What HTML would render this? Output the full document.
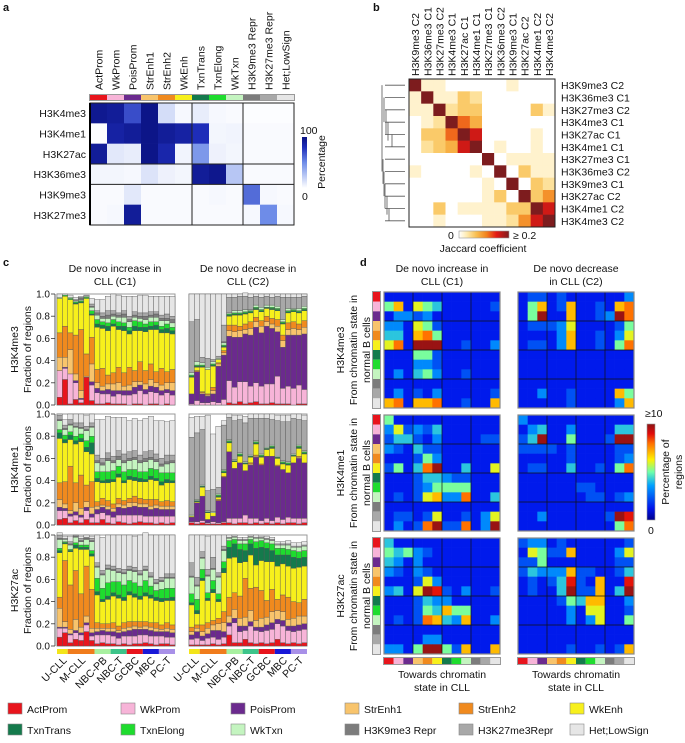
<!DOCTYPE html>
<html><head><meta charset="utf-8"><style>
html,body{margin:0;padding:0;background:#fff}
svg{display:block;font-family:"Liberation Sans",Arial,sans-serif}
</style></head><body>
<svg id="fig" width="685" height="743" viewBox="0 0 685 743" xmlns="http://www.w3.org/2000/svg"></svg>
<script>
// ---------- DATA ----------
const stateNames = ["ActProm","WkProm","PoisProm","StrEnh1","StrEnh2","WkEnh","TxnTrans","TxnElong","WkTxn","H3K9me3 Repr","H3K27me3 Repr","Het;LowSign"];
const legendNames = ["ActProm","WkProm","PoisProm","StrEnh1","StrEnh2","WkEnh","TxnTrans","TxnElong","WkTxn","H3K9me3 Repr","H3K27me3Repr","Het;LowSign"];
const stateColors = ["#e8141c","#f7b4d8","#6b2a8e","#f8c46c","#f08a1e","#f7f01c","#147a4c","#1edc2e","#c4f4c0","#7c7c7c","#a8a8a8","#e6e6e6"];
const marks = ["H3K4me3","H3K4me1","H3K27ac","H3K36me3","H3K9me3","H3K27me3"];
const aValues = [
 [95,92,70,98,15,3,8,3,2,1,1,1],
 [1,88,92,98,92,88,80,4,5,2,2,2],
 [92,10,8,98,85,5,45,6,4,2,2,2],
 [4,4,3,12,6,4,92,96,25,2,2,2],
 [2,2,10,2,2,2,2,3,2,60,3,2],
 [2,3,92,2,2,2,2,2,2,3,50,3]];
const bLabels = ["H3K9me3 C2","H3K36me3 C1","H3K27me3 C2","H3K4me3 C1","H3K27ac C1","H3K4me1 C1","H3K27me3 C1","H3K36me3 C2","H3K9me3 C1","H3K27ac C2","H3K4me1 C2","H3K4me3 C2"];
const bValues = [
 [10,1,1,0,0,0,0,0,1,0,0,0],
 [1,10,1,1,3,2,0,0,0,0,0,0],
 [1,1,10,2,3,3,0,0,0,0,3,1],
 [0,1,2,10,6,4,0,0,0,0,0,0],
 [0,3,3,6,10,8,0,0,0,0,1,0],
 [0,2,3,4,8,10,0,1,0,0,1,0],
 [0,0,0,0,0,0,10,0,1,1,1,1],
 [1,0,0,0,0,1,0,10,0,3,1,1],
 [0,0,0,0,0,0,1,0,10,0,3,2],
 [0,0,0,0,0,0,1,3,0,10,3,5],
 [0,0,3,0,1,1,1,1,3,3,10,8],
 [0,0,1,0,0,0,1,1,2,5,8,10]];
const groups = ["U-CLL","M-CLL","NBC-PB","NBC-T","GCBC","MBC","PC-T"];
const groupCounts = [2,5,3,3,3,3,3];
const groupColors = ["#f3e51a","#f07c1c","#a8f0a0","#3cc48a","#e8141c","#1818d8","#a890e8"];
const yTicks = [0,0.2,0.4,0.6,0.8,1.0];
const c_K4me3_C1 = ["7 24 0 12 22 31 0 0 1 0 0 3","23 10 1 9 28 27 0 1 0 0 0 1","1 27 0 22 15 30 0 1 1 0 0 2","5 15 2 6 35 28 1 1 1 0 1 2","2 3 1 7 55 24 1 1 1 1 1 1","25 0 0 1 20 50 0 1 1 0 1 0","4 14 3 16 24 20 1 3 3 1 2 5","1 10 4 5 12 38 3 4 4 2 2 10","1 9 3 4 16 36 3 3 3 2 3 12","2 8 4 5 8 40 4 3 4 3 4 13","1 7 5 6 10 42 2 4 3 2 3 15","1 9 3 7 14 34 3 4 4 2 2 16","1 8 4 4 12 38 4 3 5 3 3 13","0 9 4 5 16 30 3 3 5 2 3 18","1 9 6 5 10 36 4 5 3 2 3 14","1 12 5 3 18 28 3 5 3 2 3 16","0 10 4 5 12 35 4 3 4 3 3 16","1 11 5 6 14 31 3 4 4 2 3 14","1 10 5 4 10 38 4 3 4 3 2 14","0 9 4 5 15 32 3 3 5 2 3 17","1 10 3 6 10 35 4 4 3 2 4 16","0 9 4 7 12 32 3 3 4 3 3 18"];
const c_K4me3_C2 = ["0 1 9 0 0 15 1 1 2 0 46 25","0 4 26 0 1 3 1 1 3 0 38 23","0 2 8 1 1 22 1 1 2 0 5 57","0 2 6 1 1 22 0 0 2 0 8 58","0 3 7 3 3 19 1 1 2 0 2 59","0 2 33 2 1 3 0 0 1 0 2 56","0 5 40 2 2 3 1 1 2 1 15 28","2 20 40 5 5 8 1 1 1 0 14 3","1 15 45 5 6 9 1 1 2 0 12 3","3 18 40 6 4 10 1 1 2 0 13 2","1 20 43 4 5 9 1 1 2 0 12 3","2 15 46 6 6 8 1 1 1 0 11 3","3 17 50 5 4 7 1 1 2 0 8 2","1 16 48 6 5 8 1 1 2 0 9 3","1 18 52 4 5 7 1 0 2 0 8 2","2 17 50 4 5 8 1 1 2 0 7 3","1 25 40 5 6 8 1 1 2 0 9 2","1 14 37 6 5 10 1 1 2 0 20 3","1 16 46 5 6 9 1 1 2 0 10 3","0 15 48 6 6 9 1 1 1 0 10 3","1 17 45 5 5 10 1 1 2 0 10 3","1 13 50 6 6 9 1 1 2 0 9 2"];
const c_K4me1_C1 = ["5 8 3 7 15 40 5 3 8 1 4 1","6 7 2 4 20 35 3 4 5 1 3 5","2 6 2 3 40 24 4 3 6 1 4 5","4 5 3 8 18 35 3 4 8 1 3 8","2 5 2 6 30 30 3 4 5 1 4 8","5 8 3 5 15 30 4 6 9 1 3 10","2 5 3 6 23 25 10 6 8 1 3 8","2 8 4 3 4 18 3 6 8 2 5 32","5 6 5 2 6 14 2 8 6 2 4 35","2 7 5 3 5 16 3 7 10 2 5 33","1 6 5 3 4 20 2 8 7 2 4 35","3 6 7 3 5 19 3 7 6 3 5 30","2 7 6 3 4 16 2 8 8 2 6 33","1 8 7 4 4 17 3 6 8 2 6 28","2 7 8 3 6 14 3 7 9 2 6 29","3 6 7 3 5 15 3 6 8 2 5 31","2 6 8 3 4 16 2 7 9 3 6 30","2 6 6 3 6 18 3 7 8 2 6 31","1 7 7 3 5 17 2 8 7 2 5 30","2 6 6 3 4 15 3 8 6 2 5 34","1 7 6 3 5 16 3 6 8 2 6 30","2 6 6 3 4 17 2 7 9 2 5 31"];
const c_K4me1_C2 = ["2 1 4 0 0 1 0 0 1 0 70 18","1 2 17 0 0 1 1 0 1 0 60 15","2 2 22 0 0 8 1 0 1 0 50 12","1 1 3 0 0 6 1 0 1 0 18 68","1 2 5 0 0 3 0 0 1 0 20 50","1 1 20 0 1 2 1 1 1 0 6 55","2 1 40 0 1 3 1 1 1 0 40 4","2 4 60 0 0 8 1 1 1 0 20 3","1 5 45 0 0 6 1 0 1 0 35 5","2 4 50 0 0 6 1 1 1 0 30 4","2 7 40 0 0 6 1 0 1 0 35 6","1 5 48 1 1 5 1 0 1 0 33 4","2 4 55 1 1 10 1 1 1 0 20 4","1 3 50 0 1 6 1 1 1 0 32 4","2 4 56 0 0 6 1 0 1 0 26 4","1 3 58 0 0 7 1 1 1 0 23 5","2 5 46 0 1 6 1 0 1 0 32 5","1 4 45 0 0 5 1 1 1 0 35 6","2 5 40 0 0 7 1 1 1 0 36 6","2 4 50 0 0 6 1 0 1 0 32 4","1 5 54 1 1 7 1 1 1 0 23 5","2 4 50 0 0 8 1 1 1 0 27 5"];
const c_K27ac_C1 = ["8 8 1 17 10 40 2 2 8 1 3 2","12 4 1 5 55 15 1 1 2 0 1 2","3 7 1 4 40 30 1 1 4 1 2 5","6 6 2 10 44 20 3 2 5 1 1 0","5 5 2 5 30 40 2 2 3 1 2 2","13 6 2 6 45 15 2 2 5 1 1 2","5 4 3 4 35 30 2 3 8 1 2 2","2 8 3 3 5 25 3 12 10 1 3 25","3 7 4 2 4 20 2 10 12 1 3 30","2 8 3 3 4 22 3 12 12 1 3 27","2 7 4 3 5 24 3 10 10 1 3 28","1 6 5 2 4 25 3 12 8 1 3 30","2 7 4 3 5 20 3 11 10 1 3 31","1 8 5 3 5 24 3 10 9 1 3 28","2 7 6 3 4 22 3 10 10 1 3 28","2 8 5 2 5 20 3 9 10 1 3 32","3 7 5 3 4 23 3 11 9 1 3 30","2 7 5 3 4 22 3 8 8 1 3 34","1 8 4 3 5 20 3 6 6 1 3 40","2 7 4 2 4 21 3 8 7 1 3 38","2 6 5 3 5 20 2 9 9 1 3 35","1 7 4 3 4 22 3 8 9 1 3 35"];
const c_K27ac_C2 = ["1 5 4 3 4 20 2 8 15 1 12 25","1 6 6 3 3 10 3 10 12 1 7 38","1 4 4 4 6 40 2 8 10 1 5 15","1 6 4 5 5 20 2 5 15 1 5 30","2 6 6 5 4 25 3 8 10 1 10 20","1 5 8 6 5 15 2 5 15 1 3 34","2 6 5 8 10 35 4 6 10 1 3 10","10 8 3 6 17 35 10 6 2 0 1 2","3 18 4 8 15 32 12 4 2 0 1 1","3 10 5 7 20 30 12 5 3 0 1 2","6 8 4 8 35 15 10 6 3 0 1 2","3 15 4 10 20 30 10 4 2 0 1 1","2 12 3 6 30 20 15 6 3 0 1 2","3 10 4 8 25 27 12 6 2 0 1 1","2 12 5 7 15 35 12 5 3 0 1 2","3 12 6 10 20 25 10 6 3 0 1 2","6 14 4 8 10 30 10 6 3 0 1 2","3 15 5 8 15 28 8 6 3 0 1 2","2 12 4 6 20 28 10 5 4 0 1 3","3 10 5 7 15 30 10 6 3 0 1 3","2 12 5 8 12 32 8 6 4 0 1 3","3 12 5 7 15 30 8 6 4 0 1 3"];
const d_K4me3_C1 = ["000000000000","460543000001","022120000000","220541000000","330674000000","570999001002","000441000000","000221000000","020342001000","000000000000","020102000001","670667001006"];
const d_K4me3_C2 = ["011010000002","046016001067","049006001297","011125000014","000026001025","011026001047","000000000000","000000000000","000000000000","000000000000","002001000064","000001000026"];
const d_K4me1_C1 = ["400000000000","251213000000","133102000011","210311000000","000142000000","140379003005","000133211000","000124444000","010156227003","000000000000","011015001025","020179117029"];
const d_K4me1_C2 = ["200000000000","023002000033","139004000199","111101000011","000001000012","011003001047","000000000000","000000110000","000000011012","000000000000","002000000198","000000000047"];
const d_K27ac_C1 = ["300000000000","434210000000","320200000000","210210000000","000152000000","230598102001","000132200000","000143644000","010176326002","000000000000","000022000000","220499416006"];
const d_K27ac_C2 = ["122010000001","054116000025","114000000011","132226110013","010138106008","010039116039","000014366002","000002055001","000002025004","000000000000","000000000000","000001001016"];

// ---------- HELPERS ----------
const NS="http://www.w3.org/2000/svg";
const svg=document.getElementById('fig');
function mk(tag,attrs,parent,text){const e=document.createElementNS(NS,tag);for(const k in attrs)e.setAttribute(k,attrs[k]);if(text!==undefined)e.textContent=text;(parent||svg).appendChild(e);return e;}
function txt(x,y,s,size,opts,parent){opts=opts||{};const a={x:x,y:y,'font-size':size,fill:opts.fill||'#111'};if(opts.anchor)a['text-anchor']=opts.anchor;if(opts.weight)a['font-weight']=opts.weight;if(opts.rot!==undefined)a.transform='rotate('+opts.rot+' '+x+' '+y+')';return mk('text',a,parent,s);}
function lerp(a,b,t){return Math.round(a+(b-a)*t);}
function ramp(stops,t){t=Math.max(0,Math.min(1,t));for(let i=1;i<stops.length;i++){if(t<=stops[i][0]){const s=stops[i-1],e=stops[i];const u=(t-s[0])/(e[0]-s[0]);return 'rgb('+lerp(s[1][0],e[1][0],u)+','+lerp(s[1][1],e[1][1],u)+','+lerp(s[1][2],e[1][2],u)+')';}}const l=stops[stops.length-1][1];return 'rgb('+l.join(',')+')';}
const blueStops=[[0,[255,255,255]],[0.5,[110,140,232]],[0.8,[30,45,185]],[1,[10,18,130]]];
const heatStops=[[0,[255,255,255]],[0.15,[255,236,180]],[0.35,[248,190,80]],[0.55,[242,130,30]],[0.75,[228,25,20]],[1,[125,28,30]]];
const jetStops=[[0,[0,0,140]],[0.12,[0,20,235]],[0.36,[0,160,255]],[0.5,[110,255,170]],[0.63,[255,240,0]],[0.8,[255,110,0]],[0.9,[225,10,10]],[1,[140,20,20]]];

// ---------- PANEL A ----------
let g=mk('g',{});


let t=txt(3,11,'a',11,{weight:'bold'},g);


const aX=90,aY=103,aW=204,aH=122;
const acw=aW/12,ach=aH/6;
stateNames.forEach((n,i)=>{
 const cx=aX+acw*(i+0.5)+4;
 const l=txt(cx,90,n,10.5,{rot:-90},g);
 
 
 const s=mk('rect',{x:aX+acw*i,y:95,width:acw,height:5,fill:stateColors[i]},g);
 
 
});
mk('rect',{x:aX-0.5,y:94.5,width:aW+1,height:6,fill:'none',stroke:'#999','stroke-width':1},g);
aValues.forEach((row,r)=>{
 const l=txt(86,aY+ach*(r+0.5)+4,marks[r],10.5,{anchor:'end'},g);
 
 
 row.forEach((v,c)=>{
  const cell=mk('rect',{x:aX+acw*c,y:aY+ach*r,width:acw+0.3,height:ach+0.3,fill:ramp(blueStops,v/100)},g);
  
  
 });
});
mk('rect',{x:aX,y:aY,width:aW,height:aH,fill:'none',stroke:'#222','stroke-width':1},g);
[6,9].forEach(c=>mk('line',{x1:aX+acw*c,x2:aX+acw*c,y1:aY,y2:aY+aH,stroke:'#222','stroke-width':1},g));
[3,4].forEach(r=>mk('line',{x1:aX,x2:aX+aW,y1:aY+ach*r,y2:aY+ach*r,stroke:'#222','stroke-width':1},g));
mk('line',{x1:aX,x2:aX,y1:aY,y2:aY+aH,stroke:'#000','stroke-width':2},g);
const gradA=mk('linearGradient',{id:'gA',x1:0,y1:1,x2:0,y2:0},mk('defs',{},g));
[0,0.5,0.8,1].forEach(o=>mk('stop',{offset:o,'stop-color':ramp(blueStops,o)},gradA));
let cb=mk('rect',{x:302,y:137,width:5,height:51,fill:'url(#gA)'},g);


txt(300,134,'100',10.5,{},g);
txt(302,200,'0',10.5,{},g);
t=txt(325,162,'Percentage',10.5,{anchor:'middle',rot:-90},g);



// ---------- PANEL B ----------
g=mk('g',{});


t=txt(373,11,'b',11,{weight:'bold'},g);


const bX=409,bY=79,bW=146,bH=148,bcw=bW/12,bch=bH/12;
bLabels.forEach((n,i)=>{
 const l=txt(bX+bcw*(i+0.5)+4,76,n,10.5,{rot:-90},g);
 
 
 const r=txt(561,bY+bch*(i+0.5)+4,n,10.5,{},g);
 
 
});
bValues.forEach((row,r)=>row.forEach((v,c)=>{
 const cell=mk('rect',{x:bX+bcw*c,y:bY+bch*r,width:bcw+0.3,height:bch+0.3,fill:ramp(heatStops,v/10)},g);
 
 
}));
mk('rect',{x:bX,y:bY,width:bW,height:bH,fill:'none',stroke:'#222','stroke-width':1},g);
// dendrogram
const dy=i=>bY+bch*(i+0.5);
const dg=mk('g',{stroke:'#555','stroke-width':0.8,fill:'none'},g);


for(let i=0;i<12;i++)mk('line',{x1:385,x2:405,y1:dy(i),y2:dy(i)},dg);
mk('path',{d:`M392 ${dy(4)}V${dy(5)}M388 ${dy(3)}V${(dy(4)+dy(5))/2}M386 ${dy(2)}V${dy(4)}M384 ${dy(1)}V${dy(3)}M389 ${dy(10)}V${dy(11)}M387 ${dy(9)}V${dy(10.5)}M385 ${dy(8)}V${dy(10)}M384 ${dy(7)}V${dy(9)}M383 ${dy(6)}V${dy(8)}M382 ${dy(0)}V${dy(7)}`},dg);
const gradB=mk('linearGradient',{id:'gB',x1:0,y1:0,x2:1,y2:0},mk('defs',{},g));
[0,0.15,0.35,0.55,0.75,1].forEach(o=>mk('stop',{offset:o,'stop-color':ramp(heatStops,o)},gradB));
cb=mk('rect',{x:459,y:231,width:50,height:7,fill:'url(#gB)',stroke:'#999','stroke-width':0.6},g);


txt(448,239,'0',10.5,{},g);
txt(513,239,'≥ 0.2',10.5,{},g);
t=txt(483,252,'Jaccard coefficient',10.5,{anchor:'middle'},g);



// ---------- PANEL C ----------
g=mk('g',{});


t=txt(3,266,'c',11,{weight:'bold'},g);


txt(115,272,'De novo increase in',10.5,{anchor:'middle'},g);
txt(115,285,'CLL (C1)',10.5,{anchor:'middle'},g);
txt(248,272,'De novo decrease in',10.5,{anchor:'middle'},g);
txt(248,285,'CLL (C2)',10.5,{anchor:'middle'},g);
const cRows=[{top:294,mark:'H3K4me3',d:[c_K4me3_C1,c_K4me3_C2]},{top:414,mark:'H3K4me1',d:[c_K4me1_C1,c_K4me1_C2]},{top:535,mark:'H3K27ac',d:[c_K27ac_C1,c_K27ac_C2]}];
const cPlotX=[57,189],cPW=118,cPH=111;
cRows.forEach((row,ri)=>{
 const yS=v=>row.top+cPH*(1-v);
 const yl=txt(18,row.top+cPH/2,row.mark,10.5,{anchor:'middle',rot:-90},g);
 
 
 const yt=txt(31,row.top+cPH/2,'Fraction of regions',10.5,{anchor:'middle',rot:-90},g);
 
 
 yTicks.forEach(v=>{
  const tl=txt(50,yS(v)+3.5,v.toFixed(1),10,{anchor:'end'},g);
  
  
  mk('line',{x1:51,x2:55,y1:yS(v),y2:yS(v),stroke:'#333','stroke-width':0.8},g);
 });
 mk('line',{x1:55,x2:55,y1:yS(0),y2:yS(1),stroke:'#333','stroke-width':0.8},g);
 row.d.forEach((bars,pi)=>{
  const px=cPlotX[pi];
  const bw=cPW/bars.length;
  mk('rect',{x:px,y:row.top,width:cPW,height:cPH,fill:'#fff',stroke:'#999','stroke-width':1},g);
  bars.forEach((s,bi)=>{
   const vals=s.split(' ').map(Number);
   let cum=0;
   vals.forEach((v,k)=>{
    if(v<=0)return;
    const y0=yS(cum/100),y1=yS((cum+v)/100);
    const seg=mk('rect',{x:px+bw*bi,y:y1,width:bw,height:y0-y1,fill:stateColors[k],stroke:'#555','stroke-width':0.4},g);
    
    
    cum+=v;
   });
  });
  if(ri===2){
   let bi=0;
   groupCounts.forEach((n,gi)=>{
    const x0=px+bw*bi,w=bw*n;
    const st=mk('rect',{x:x0,y:649,width:w,height:5,fill:groupColors[gi]},g);
    
    
    const gl=txt(x0+w/2+5,661,groups[gi],10.5,{anchor:'end',rot:-45},g);
    
    
    bi+=n;
   });
  }
 });
});

// ---------- PANEL D ----------
g=mk('g',{});


t=txt(360,266,'d',11,{weight:'bold'},g);


txt(442,272,'De novo increase in',10.5,{anchor:'middle'},g);
txt(442,285,'CLL (C1)',10.5,{anchor:'middle'},g);
txt(576,272,'De novo decrease',10.5,{anchor:'middle'},g);
txt(576,285,'in CLL (C2)',10.5,{anchor:'middle'},g);
const dRows=[{top:292,mark:'H3K4me3',d:[d_K4me3_C1,d_K4me3_C2]},{top:415,mark:'H3K4me1',d:[d_K4me1_C1,d_K4me1_C2]},{top:538,mark:'H3K27ac',d:[d_K27ac_C1,d_K27ac_C2]}];
const dPX=[384,518],dS=116,dc=dS/12;
dRows.forEach((row,ri)=>{
 const ml=txt(344,row.top+dS/2,row.mark,10.5,{anchor:'middle',rot:-90},g);
 
 
 const l1=txt(357,row.top+dS/2,'From chromatin state in',10.5,{anchor:'middle',rot:-90},g);
 
 
 txt(370,row.top+dS/2,'normal B cells',10.5,{anchor:'middle',rot:-90},g);
 stateColors.forEach((c,i)=>{
  const s=mk('rect',{x:373,y:row.top+dc*i,width:7,height:dc,fill:c},g);
  
  
 });
 mk('rect',{x:372.5,y:row.top-0.5,width:8,height:dS+1,fill:'none',stroke:'#999','stroke-width':1},g);
 row.d.forEach((m,pi)=>{
  const px=dPX[pi];
  m.forEach((rs,r)=>{
   for(let c=0;c<12;c++){
    const v=Number(rs[c]);
    const cell=mk('rect',{x:px+dc*c,y:row.top+dc*r,width:dc+0.3,height:dc+0.3,fill:ramp(jetStops,0.13+v*0.095)},g);
    
    
   }
  });
  [3,6,9].forEach(k=>{
   mk('line',{x1:px+dc*k,x2:px+dc*k,y1:row.top,y2:row.top+dS,stroke:'#111','stroke-width':0.7},g);
   mk('line',{x1:px,x2:px+dS,y1:row.top+dc*k,y2:row.top+dc*k,stroke:'#111','stroke-width':0.7},g);
  });
  mk('rect',{x:px,y:row.top,width:dS,height:dS,fill:'none',stroke:'#888','stroke-width':1.2},g);
  if(ri===2){
   stateColors.forEach((c,i)=>{
    const s=mk('rect',{x:px+dc*i,y:658,width:dc,height:6,fill:c},g);
    
    
   });
   mk('rect',{x:px-0.5,y:657.5,width:dS+1,height:7,fill:'none',stroke:'#999','stroke-width':1},g);
   const xl=txt(px+dS/2,678,'Towards chromatin',10.5,{anchor:'middle'},g);
   
   
   txt(px+dS/2,691,'state in CLL',10.5,{anchor:'middle'},g);
  }
 });
});
const gradD=mk('linearGradient',{id:'gD',x1:0,y1:1,x2:0,y2:0},mk('defs',{},g));
jetStops.forEach(s=>mk('stop',{offset:s[0],'stop-color':ramp(jetStops,s[0])},gradD));
cb=mk('rect',{x:647,y:424,width:8,height:96,fill:'url(#gD)',stroke:'#999','stroke-width':0.6},g);


txt(645,417,'≥10',10.5,{},g);
txt(648,534,'0',10.5,{},g);
t=txt(669,472,'Percentage of',10.5,{anchor:'middle',rot:-90},g);


txt(682,472,'regions',10.5,{anchor:'middle',rot:-90},g);

// ---------- LEGEND ----------
g=mk('g',{});


const legX=[8,121,231,345,459,570];
legendNames.forEach((n,i)=>{
 const col=i%6,row=Math.floor(i/6);
 const y=703+row*21;
 const e=mk('g',{},g);
 
 
 mk('rect',{x:legX[col],y:y,width:14,height:11,fill:stateColors[i],stroke:'#888','stroke-width':0.6},e);
 txt(legX[col]+19,y+10,n,10.5,{},e);
});
</script>
</body></html>
